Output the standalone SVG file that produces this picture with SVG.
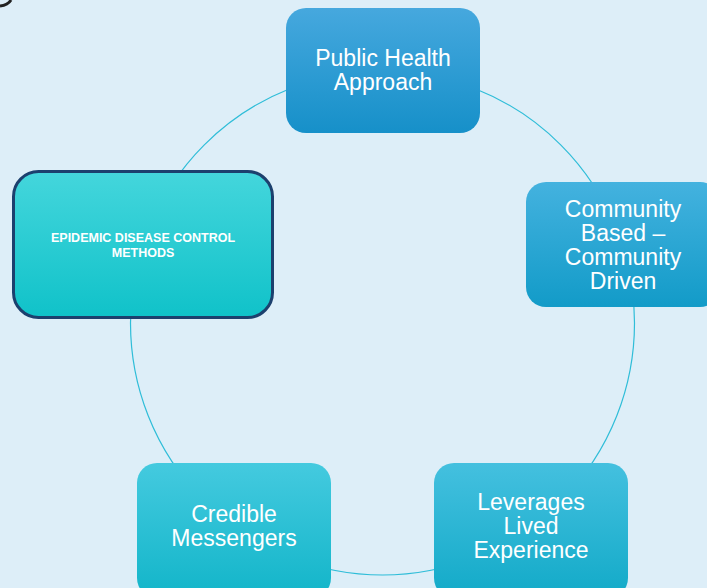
<svg xmlns="http://www.w3.org/2000/svg" width="707" height="588" viewBox="0 0 707 588">
<defs>
<linearGradient id="g1" x1="0" y1="0" x2="0" y2="1"><stop offset="0" stop-color="#46a8de"/><stop offset="1" stop-color="#1690c9"/></linearGradient>
<linearGradient id="g2" x1="0" y1="0" x2="0" y2="1"><stop offset="0" stop-color="#44b2df"/><stop offset="1" stop-color="#129bc8"/></linearGradient>
<linearGradient id="g3" x1="0" y1="0" x2="0" y2="1"><stop offset="0" stop-color="#44c0df"/><stop offset="1" stop-color="#12aac8"/></linearGradient>
<linearGradient id="g4" x1="0" y1="0" x2="0" y2="1"><stop offset="0" stop-color="#44cadf"/><stop offset="1" stop-color="#12b5c9"/></linearGradient>
<linearGradient id="g5" x1="0" y1="0" x2="0" y2="1"><stop offset="0" stop-color="#44d6dc"/><stop offset="1" stop-color="#10c2c9"/></linearGradient>
</defs>
<style>
.t{font-family:"Liberation Sans",Arial,sans-serif;font-size:23px;fill:#ffffff;text-anchor:middle}
.b{font-family:"Liberation Sans",Arial,sans-serif;font-size:12.5px;font-weight:bold;fill:#ffffff;text-anchor:middle}
.c{fill:none;stroke:#2fbdd8;stroke-width:1.2}
</style>
<rect width="707" height="588" fill="#ddeef8"/>
<path d="M0,6 Q8,5 11,0" fill="none" stroke="#222222" stroke-width="3"/>
<g id="connectors">
<circle class="c" cx="382.5" cy="323" r="252"/>
</g>
<g id="node-public-health">
<rect x="286" y="8" width="194" height="125" rx="20" fill="url(#g1)"/>
<text class="t" x="383" y="66">Public Health</text>
<text class="t" x="383" y="90">Approach</text>
</g>
<g id="node-community">
<rect x="526" y="182" width="194" height="125" rx="20" fill="url(#g2)"/>
<text class="t" x="623" y="217">Community</text>
<text class="t" x="623" y="241">Based –</text>
<text class="t" x="623" y="265">Community</text>
<text class="t" x="623" y="289">Driven</text>
</g>
<g id="node-lived">
<rect x="434" y="463" width="194" height="135" rx="20" fill="url(#g3)"/>
<text class="t" x="531" y="510">Leverages</text>
<text class="t" x="531" y="534">Lived</text>
<text class="t" x="531" y="558">Experience</text>
</g>
<g id="node-credible">
<rect x="137" y="463" width="194" height="135" rx="20" fill="url(#g4)"/>
<text class="t" x="234" y="522">Credible</text>
<text class="t" x="234" y="546">Messengers</text>
</g>
<g id="node-epidemic">
<rect x="13.5" y="171.5" width="259" height="146" rx="25" fill="url(#g5)" stroke="#1c406e" stroke-width="3"/>
<text class="b" x="143" y="242">EPIDEMIC DISEASE CONTROL</text>
<text class="b" x="143" y="257">METHODS</text>
</g>
</svg>
